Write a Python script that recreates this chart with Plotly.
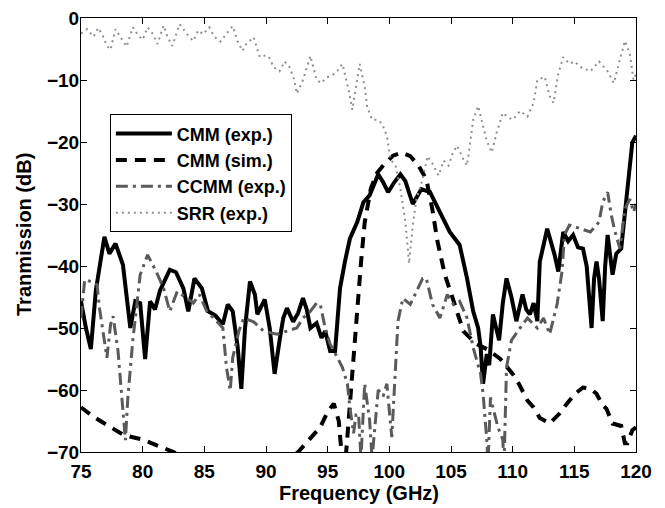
import plotly.graph_objects as go

# CMM (exp.)
cmm_exp_x = [75.0, 75.4, 75.8, 76.2, 76.6, 76.9, 77.3, 77.8, 78.4, 78.7, 79.0, 79.4, 79.8, 80.2, 80.6, 81.0, 81.4,
             82.2, 82.7, 83.3, 83.7, 84.2, 84.8, 85.3, 85.9, 86.5, 86.9, 87.3, 87.7, 88.0, 88.3, 88.7, 89.1, 89.3,
             89.9, 90.3, 90.7, 91.1, 91.4, 91.7, 92.2, 92.6, 93.0, 93.3, 93.6, 94.1, 94.5, 94.8, 95.2, 95.6, 96.0,
             96.4, 96.8, 97.4, 97.9, 98.4, 99.1, 99.5, 99.9, 100.4, 100.9, 101.3, 101.9, 102.6, 103.3, 104.1, 104.9,
             105.7, 106.3, 106.8, 107.2, 107.4, 107.6, 107.9, 108.1, 108.4, 108.7, 108.9, 109.2, 109.5, 109.9, 110.3,
             110.8, 111.1, 111.4, 111.7, 112.0, 112.2, 112.8, 113.4, 113.7, 114.1, 114.5, 114.9, 115.3, 115.7, 116.0,
             116.2, 116.4, 116.6, 116.8, 117.0, 117.3, 117.5, 117.7, 118.1, 118.4, 118.8, 119.3, 119.7, 120.0]
cmm_exp_y = [-45.7, -50, -53.4, -44, -39, -35.3, -38, -36.4, -39.8, -45, -50, -45.7, -46, -55, -45.7, -47, -44,
             -40.6, -41, -43.6, -47.3, -42, -43.6, -47.3, -48, -49.4, -46.2, -47.3, -53, -59.8, -50, -42.5, -44.6, -47.8,
             -45.4, -50, -57.4, -52, -48.4, -46.8, -49, -47.6, -45.2, -47, -50, -49.2, -51.6, -50.5, -53.7, -53.7, -43.6,
             -39.3, -35.6, -32.9, -29.7, -28.6, -25.2, -26.5, -28.1, -26.5, -25.2, -26.3, -30, -27.6, -28.1, -31.3, -34.5,
             -36.6, -42, -47.3, -50, -53, -59, -54.2, -56, -47.8, -50, -52, -46, -42, -45, -48.9,
             -44.6, -47, -47.8, -46, -48.9, -39.3, -34, -38.2, -40.9, -34.5, -36, -35, -37, -37.2, -40,
             -45, -50, -42, -39.3, -42, -48.9, -40, -35, -41.4, -38, -37.2, -27.6, -20.1, -19]

# CMM (sim.)
cmm_sim_x = [75.0, 76.0, 77.4, 78.5, 80.0, 81.3, 82.5, 84.0, 88.0, 91.5, 92.6, 93.5, 94.4, 95.0, 95.5, 95.9, 96.2,
             96.5, 96.8, 97.1, 97.4, 97.7, 98.0, 98.5, 99.0, 99.5, 100.3, 101.0, 101.7, 102.3, 103.0, 103.5, 103.9,
             104.5, 105.3, 106.0, 107.0, 108.0, 109.0, 110.0, 110.5, 111.2, 111.7, 112.2, 113.0, 113.8, 114.4, 115.0,
             115.7, 116.3, 116.8, 117.3, 117.6, 118.1, 118.8, 119.1, 119.3, 119.7, 120.0]
cmm_sim_y = [-62.8, -64.3, -66, -67.3, -68, -69, -70, -72, -76, -72, -70, -68, -66, -63.5, -62.2, -65, -72,
             -70, -62, -54, -46.5, -39.5, -33, -27.5, -25, -23.8, -22.2, -21.7, -22.3, -23.6, -26, -31, -36,
             -41.4, -46.2, -50.5, -52.5, -53.5, -55, -57.4, -59, -61.7, -62.8, -64.5, -65.4, -63.8, -62.2, -60.7,
             -59.6, -59.8, -60.6, -62.5, -63, -65.4, -65.8, -68.6, -68.6, -66.5, -66]

# CCMM (exp.)
ccmm_x = [75.0, 75.3, 75.8, 76.3, 76.5, 76.8, 77.1, 77.4, 77.6, 78.0, 78.4, 78.6, 78.8, 79.2, 79.8, 80.4, 81.1,
          81.7, 82.2, 82.8, 83.6, 84.1, 84.6, 85.2, 86.0, 86.5, 86.8, 87.1, 87.3, 87.8, 88.2, 89.0, 89.8, 90.9,
          91.7, 92.5, 93.0, 93.6, 94.1, 94.4, 94.8, 95.2, 95.8, 96.2, 96.6, 96.8, 97.1, 97.3, 97.5, 97.7, 98.0,
          98.4, 98.6, 99.1, 99.5, 99.8, 100.2, 100.5, 100.7, 101.1, 101.7, 102.2, 102.7, 103.0, 103.5, 104.1,
          104.7, 105.2, 105.7, 106.3, 106.8, 107.4, 107.6, 107.9, 108.0, 108.2, 108.4, 108.8, 109.2, 109.3,
          109.5, 109.9, 110.6, 111.2, 112.0, 112.5, 113.0, 113.6, 114.0, 114.2, 114.6, 115.5, 116.3, 117.0,
          117.3, 117.7, 118.0, 118.3, 118.7, 119.1, 119.5, 119.8, 120.0]
ccmm_y = [-48.4, -42.2, -42.5, -43, -46.8, -51, -54.8, -49.4, -48.1, -53.7, -63.8, -68.1, -61.2, -52, -41.4, -38.2, -40.9,
          -43.6, -47.3, -44.1, -45.2, -46, -44.6, -47.3, -48.9, -50, -56.4, -60.1, -54.8, -50.5, -48.4, -49, -50.5, -51,
          -50.5, -50, -48.4, -47.3, -46, -46.2, -50, -52.6, -54.8, -56.4, -59, -62.8, -67, -64, -63.8, -71, -59,
          -64.9, -71, -60, -61, -59, -67.6, -56.9, -48.9, -45.2, -46.2, -44.1, -42, -42, -46.2, -48.4,
          -44.6, -46.2, -45.7, -48.4, -53.2, -57.4, -60.6, -68, -72, -61.2, -62.8, -66, -68, -72,
          -56.4, -52, -50, -48.4, -50, -48.4, -51, -46.2, -40.9, -35, -33.4, -34, -34.5, -32.9,
          -29.7, -28.1, -31.8, -34.5, -37.2, -30.8, -29.2, -31.3, -30]

# SRR (exp.)
srr_x = [75.0, 75.5, 76.0, 76.4, 76.8, 77.1, 77.4, 77.8, 78.2, 78.7, 79.2, 79.6, 80.0, 80.4, 80.8, 81.2, 81.7,
         82.0, 82.4, 83.0, 83.6, 84.1, 84.5, 84.9, 85.4, 85.8, 86.3, 86.8, 87.3, 87.7, 88.1, 88.3, 89.0, 89.5,
         90.0, 90.3, 90.6, 91.1, 91.5, 91.9, 92.3, 92.5, 93.0, 93.6, 94.1, 94.5, 94.9, 95.4, 95.8, 96.2, 96.7,
         97.0, 97.6, 98.0, 98.2, 98.6, 99.0, 99.4, 99.8, 100.1, 100.5, 100.9, 101.3, 101.6, 101.9, 102.2, 102.7,
         103.1, 103.5, 104.0, 104.4, 104.8, 105.1, 105.5, 106.0, 106.3, 106.8, 107.2, 107.9, 108.3, 108.7,
         109.2, 109.6, 110.0, 110.6, 111.2, 111.7, 112.0, 112.6, 113.0, 113.3, 113.7, 114.1, 114.6, 115.0,
         115.5, 116.3, 117.0, 117.7, 118.2, 118.7, 119.1, 119.5, 119.8, 120.0]
srr_y = [-2.5, -1.8, -3, -1.6, -3, -4.5, -5.1, -1.8, -3.1, -4.6, -1.5, -2.7, -3.5, -1.5, -2.5, -4.2, -1.2,
         -3, -4.5, -1, -2.6, -3.7, -2, -2.6, -1.5, -3, -3.8, -2.6, -1.3, -3.8, -5.3, -4.4, -3.1, -6.3,
         -6, -6.5, -7.9, -8.6, -7, -7.9, -10, -12.2, -10, -6.1, -10, -10.5, -9.6, -9.2, -8.5, -7.4, -11.6,
         -14.8, -7.4, -11, -14.3, -16.4, -16.4, -17, -19, -22.8, -23.8, -27.6, -32.9, -39.6, -33.4, -29.2, -26,
         -22.3, -23.5, -25.4, -23, -23.8, -22, -20.6, -22.8, -23.8, -16.4, -14.2, -19.8, -21.7, -18.5,
         -15.3, -16, -16.4, -15, -15.9, -13.7, -10, -9.5, -12.6, -13.7, -9, -6.3, -7.4, -7,
         -7.9, -8.6, -7, -8.6, -10.5, -6.9, -3.7, -5.8, -10, -9]

x_ticks = [75, 80, 85, 90, 95, 100, 105, 110, 115, 120]
y_ticks = [-70, -60, -50, -40, -30, -20, -10, 0]
x_title = "Frequency (GHz)"
y_title = "Tranmission (dB)"

fig = go.Figure()
fig.add_trace(go.Scatter(x=cmm_exp_x, y=cmm_exp_y, mode="lines", name="CMM (exp.)",
                         line=dict(color="black", width=4)))
fig.add_trace(go.Scatter(x=cmm_sim_x, y=cmm_sim_y, mode="lines", name="CMM (sim.)",
                         line=dict(color="black", width=4, dash="11px,8px")))
fig.add_trace(go.Scatter(x=ccmm_x, y=ccmm_y, mode="lines", name="CCMM (exp.)",
                         line=dict(color="#5a5a5a", width=3, dash="12px,5px,3px,5px")))
fig.add_trace(go.Scatter(x=srr_x, y=srr_y, mode="lines", name="SRR (exp.)",
                         line=dict(color="#8f8f8f", width=2, dash="2px,4px")))

font_family = "Liberation Sans, Arial, sans-serif"
bold20 = dict(size=20, family=font_family, weight="bold", color="black")
bold19 = dict(size=19, family=font_family, weight="bold", color="black")
# the page body has an 8px margin, so the figure is 8px smaller than the window
fig.update_layout(
    width=657, height=500,
    margin=dict(l=73, r=29, t=10, b=56),
    paper_bgcolor="white", plot_bgcolor="white",
    font=dict(family=font_family, color="black"),
    legend=dict(x=0.052, y=0.778, xanchor="left", yanchor="top",
                bgcolor="white", bordercolor="black", borderwidth=1,
                font=dict(size=18, family=font_family, weight="bold"),
                tracegroupgap=0, itemwidth=56),
    showlegend=True,
    annotations=[
        dict(text=x_title, xref="paper", yref="paper", x=0.5, y=-0.0945, xanchor="center", yanchor="middle",
             showarrow=False, font=bold20),
        dict(text=y_title, xref="paper", yref="paper", x=-0.1027, y=0.5, xanchor="center", yanchor="middle",
             textangle=-90, showarrow=False, font=bold20),
    ],
)
fig.update_xaxes(range=[75, 120], tickvals=x_ticks, ticks="inside", ticklen=6, tickcolor="black",
                 showline=True, linecolor="black", linewidth=1, mirror="ticks", showgrid=False, zeroline=False,
                 automargin=False, ticklabeloverflow="allow", ticklabelstandoff=2, tickfont=bold19)
fig.update_yaxes(range=[-70, 0], tickvals=y_ticks, ticks="inside", ticklen=6, tickcolor="black",
                 showline=True, linecolor="black", linewidth=1, mirror="ticks", showgrid=False, zeroline=False,
                 automargin=False, ticklabeloverflow="allow", ticklabelstandoff=-3,
                 tickfont=bold19)

fig.write_html("out.html")
